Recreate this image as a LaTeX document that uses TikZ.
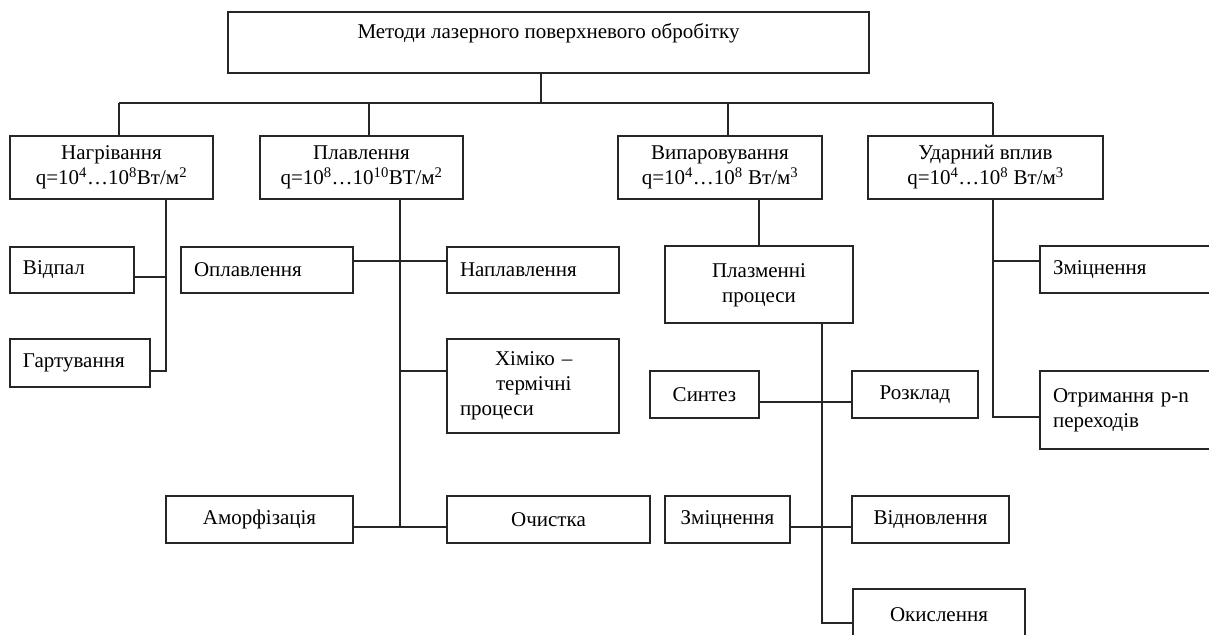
\documentclass[tikz,border=0pt]{standalone}
\usepackage{fontspec}
\setmainfont{Liberation Serif}
\begin{document}
\begin{tikzpicture}[x=1pt,y=-1pt,
  every node/.style={font=\fontsize{21}{25}\selectfont},
  box/.style={draw=black!85, line width=1.2pt, anchor=north west, inner sep=0pt, outer sep=0pt},
  lbox/.style={box, align=left, inner xsep=13pt},
  cbox/.style={box, align=center},
  conn/.style={draw=black!85, line width=1.2pt}]
\useasboundingbox (0,0) rectangle (1209,634);
\clip (0,0) rectangle (1209,634);
\fill[white] (0,0) rectangle (1209,634);
% top
\node[cbox, minimum width=641pt, minimum height=61pt] (top) at (228,12) {};
\node[anchor=center] (toptext) at (548.5,33) {Методи лазерного поверхневого обробітку};
% level 1
\node[cbox, minimum width=203pt, minimum height=63pt] (n1) at (10,136) {Нагрівання\\q=10\textsuperscript{4}…10\textsuperscript{8}Вт/м\textsuperscript{2}};
\node[cbox, minimum width=203pt, minimum height=63pt] (n2) at (260,136) {Плавлення\\q=10\textsuperscript{8}…10\textsuperscript{10}ВТ/м\textsuperscript{2}};
\node[cbox, minimum width=204pt, minimum height=63pt] (n3) at (618,136) {Випаровування\\q=10\textsuperscript{4}…10\textsuperscript{8} Вт/м\textsuperscript{3}};
\node[cbox, minimum width=235pt, minimum height=63pt] (n4) at (868,136) {Ударний вплив\\q=10\textsuperscript{4}…10\textsuperscript{8} Вт/м\textsuperscript{3}};
% Нагрівання children
\node[lbox, text width=98pt, minimum height=46pt] (a1) at (10,247) {Відпал};
\node[lbox, text width=114pt, minimum height=48pt] (a2) at (10,339) {Гартування};
% Плавлення children
\node[lbox, text width=146pt, minimum height=46pt] (b1) at (181,247) {Оплавлення};
\node[lbox, text width=146pt, minimum height=46pt] (b2) at (447,247) {Наплавлення};
\node[lbox, text width=146pt, minimum height=94pt] (b3) at (447,339) {\hspace*{35pt}Хіміко –\\\hspace*{36pt}термічні\\процеси};
\node[cbox, minimum width=187pt, minimum height=47pt] (b4) at (166,496) {Аморфізація};
\node[cbox, minimum width=203pt, minimum height=47pt] (b5) at (447,496) {Очистка};
% Випаровування children
\node[cbox, minimum width=188pt, minimum height=77pt] (c1) at (665,246) {\raisebox{4pt}{\begin{tabular}{@{}c@{}}Плазменні\\процеси\end{tabular}}};
\node[cbox, minimum width=109pt, minimum height=47pt] (c2) at (650,371) {Синтез};
\node[cbox, minimum width=126pt, minimum height=47pt] (c3) at (852,371) {Розклад};
\node[cbox, minimum width=125pt, minimum height=47pt] (c4) at (665,496) {Зміцнення};
\node[cbox, minimum width=157pt, minimum height=47pt] (c5) at (852,496) {Відновлення};
\node[cbox, minimum width=172pt, minimum height=60pt] (c6) at (853,589) {\raisebox{9pt}{Окислення}};
% Ударний вплив children
\node[lbox, text width=174pt, minimum height=47pt] (d1) at (1040,246) {Зміцнення};
\node[lbox, text width=174pt, minimum height=78pt] (d2) at (1040,371) {\raisebox{5pt}{\begin{tabular}{@{}l@{}}Отримання p-n\\переходів\end{tabular}}};
% bus coordinates
\coordinate (trunk) at (541,103);
\coordinate (busL) at (119,103);
\coordinate (bus2) at (369,103);
\coordinate (bus3) at (728,103);
\coordinate (busR) at (993,103);
\coordinate (sp1) at (166,0);
\coordinate (sp2) at (400,0);
\coordinate (sp3) at (759,0);
\coordinate (sp4) at (822,0);
\coordinate (sp5) at (993,0);
% connectors
\draw[conn] (top.south -| trunk) -- (trunk);
\draw[conn] (busL) -- (busR);
\draw[conn] (busL) -- (n1.north -| busL);
\draw[conn] (bus2) -- (n2.north -| bus2);
\draw[conn] (bus3) -- (n3.north -| bus3);
\draw[conn] (busR) -- (n4.north -| busR);
% Нагрівання
\draw[conn] (n1.south -| sp1) -- ([yshift=-8pt]a2.east -| sp1) -- ([yshift=-8pt]a2.east);
\draw[conn] ([yshift=-7pt]a1.east) -- ([yshift=-7pt]a1.east -| sp1);
% Плавлення
\draw[conn] (n2.south -| sp2) -- ([yshift=-7.5pt]b4.east -| sp2);
\draw[conn] ([yshift=9pt]b1.east) -- ([yshift=9pt]b2.west);
\draw[conn] ([yshift=15pt]b3.west -| sp2) -- ([yshift=15pt]b3.west);
\draw[conn] ([yshift=-7.5pt]b4.east) -- ([yshift=-7.5pt]b5.west);
% Випаровування
\draw[conn] (n3.south -| sp3) -- (c1.north -| sp3);
\draw[conn] (c1.south -| sp4) -- ([yshift=-4pt]c6.west -| sp4) -- ([yshift=-4pt]c6.west);
\draw[conn] ([yshift=-7.5pt]c2.east) -- ([yshift=-7.5pt]c3.west);
\draw[conn] ([yshift=-7.5pt]c4.east) -- ([yshift=-7.5pt]c5.west);
% Ударний вплив
\draw[conn] (n4.south -| sp5) -- ([yshift=-7pt]d2.west -| sp5) -- ([yshift=-7pt]d2.west);
\draw[conn] ([yshift=8.5pt]d1.west -| sp5) -- ([yshift=8.5pt]d1.west);
\end{tikzpicture}
\end{document}
